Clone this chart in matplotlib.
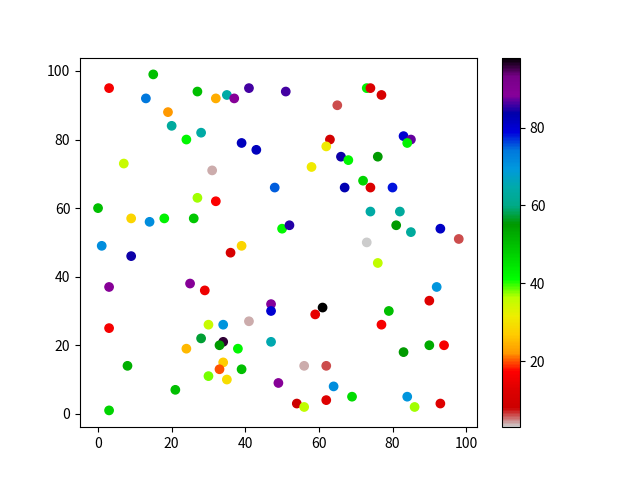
import matplotlib
matplotlib.use("Agg")
import matplotlib.pyplot as plt

plt.rcParams['font.family'] = ['Noto Sans CJK SC', 'DejaVu Sans']

x = [15, 3, 13, 27, 32, 19, 20, 24, 28, 7, 31, 35, 37, 41, 51, 65, 39, 43, 63, 62,
     66, 68, 58, 48, 67, 73, 74, 77, 83, 85, 84, 76, 72, 74, 80, 74, 82, 81, 85, 93,
     98, 73, 76, 92, 90, 0, 27, 32, 9, 14, 18, 26, 1, 9, 3, 25, 29, 50, 52, 39,
     36, 47, 61, 3, 8, 3, 21, 24, 28, 30, 30, 41, 34, 47, 59, 34, 33, 38, 47, 34,
     33, 39, 35, 49, 56, 62, 64, 54, 56, 62, 69, 79, 77, 83, 90, 94, 84, 86, 93]
y = [99, 95, 92, 94, 92, 88, 84, 80, 82, 73, 71, 93, 92, 95, 94, 90, 79, 77, 80, 78,
     75, 74, 72, 66, 66, 95, 95, 93, 81, 80, 79, 75, 68, 66, 66, 59, 59, 55, 53, 54,
     51, 50, 44, 37, 33, 60, 63, 62, 57, 56, 57, 57, 49, 46, 37, 38, 36, 54, 55, 49,
     47, 32, 31, 25, 14, 1, 7, 19, 22, 26, 11, 27, 26, 30, 29, 21, 20, 19, 21, 15,
     13, 13, 10, 9, 14, 14, 8, 3, 2, 4, 5, 30, 26, 18, 20, 20, 5, 2, 3]
values = [50, 16, 74, 50, 24, 22, 63, 42, 64, 35, 4, 64, 89, 86, 86, 6, 82, 82, 10, 31,
          84, 42, 31, 75, 83, 43, 12, 11, 80, 87, 43, 55, 47, 12, 78, 64, 63, 55, 63, 81,
          6, 3, 36, 70, 13, 50, 37, 17, 28, 71, 43, 49, 71, 84, 89, 89, 15, 42, 85, 28,
          11, 88, 98, 16, 52, 47, 50, 25, 57, 35, 38, 4, 70, 80, 14, 96, 55, 42, 65, 27,
          20, 50, 29, 89, 4, 6, 71, 8, 36, 13, 46, 50, 16, 55, 53, 16, 70, 37, 13]

fig, ax = plt.subplots(figsize=(6.4, 4.8), dpi=100)
sc = ax.scatter(x, y, c=values, cmap='nipy_spectral_r')
fig.colorbar(sc, ax=ax)
fig.savefig('out.png')
